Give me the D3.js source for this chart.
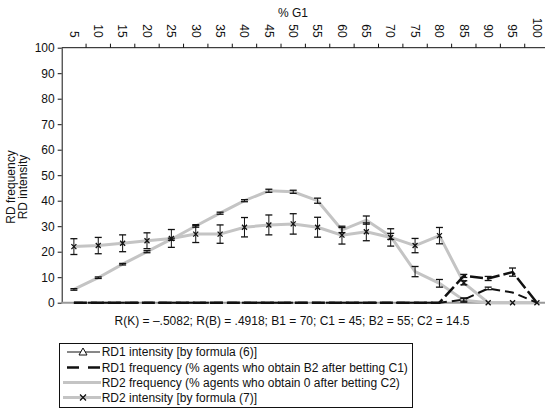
<!DOCTYPE html>
<html lang="en">
<head>
<meta charset="UTF-8">
<title>RD frequency / intensity</title>
<style>
  body { margin: 0; background: #fff; }
  text { font-family: "Liberation Sans", Arial, sans-serif; fill: #111; }
</style>
</head>
<body>
<div id="d3-container"></div>
<script src="https://d3js.org/d3.v7.min.js"></script>
<script>
  const cats = [5, 10, 15, 20, 25, 30, 35, 40, 45, 50, 55, 60, 65, 70, 75, 80, 85, 90, 95, 100];
  const yTicks = [0, 10, 20, 30, 40, 50, 60, 70, 80, 90, 100];

  const rd1Int = [0, 0, 0, 0, 0, 0, 0, 0, 0, 0, 0, 0, 0, 0, 0, 0, 1.2, 5.6, 4.0, 0];
  const rd1IntErr = [0, 0, 0, 0, 0, 0, 0, 0, 0, 0, 0, 0, 0, 0, 0, 0, 0.6, 0.5, 0, 0];
  const rd1Freq = [0, 0, 0, 0, 0, 0, 0, 0, 0, 0, 0, 0, 0, 0, 0, 0, 10.5, 9.5, 12, 0];
  const rd1FreqErr = [0, 0, 0, 0, 0, 0, 0, 0, 0, 0, 0, 0, 0, 0, 0, 0, 0.6, 0.8, 1.6, 0];
  const rd2Freq = [5.2, 9.8, 15.1, 20, 24.9, 30.1, 35.1, 40, 43.9, 43.5, 40, 28.5, 32.4, 26, 12.2, 7.6, 1, 0, 0, 0];
  const rd2FreqErr = [0.3, 0.3, 0.3, 0.4, 0.4, 0.5, 0.4, 0.4, 0.6, 0.6, 1.0, 1.0, 1.6, 1.2, 2.0, 1.5, 0.8, 0, 0, 0];
  const rd2Int = [22, 22.4, 23.3, 24.3, 25.2, 26.9, 26.9, 29.6, 30.5, 30.9, 29.6, 26.5, 27.8, 25.6, 22.4, 26.3, 7.8, 0, 0, 0];
  const rd2IntErr = [3.1, 3.2, 3.3, 3.1, 3.5, 3.3, 3.6, 3.8, 3.9, 4.0, 3.9, 3.5, 3.5, 3.4, 2.8, 3.2, 0.8, 0, 0, 0];

  const legendLabels = [
    "RD1 intensity [by formula (6)]",
    "RD1 frequency (% agents who obtain B2 after betting C1)",
    "RD2 frequency (% agents who obtain 0 after betting C2)",
    "RD2 intensity [by formula (7)]"
  ];
  const note = "R(K) = \u2013.5082; R(B) = .4918; B1 = 70; C1 = 45; B2 = 55; C2 = 14.5";

  const width = 545, height = 408;
  const margin = { top: 47.7, left: 61.7, bottom: 105.3 };
  const plotW = 20 * 24.37;
  const gray = "#c4c4c4";

  const svg = d3.select('#d3-container').append('svg')
    .attr('width', width).attr('height', height);

  const x = d3.scaleBand().domain(cats).range([margin.left, margin.left + plotW]).padding(0);
  const cx = c => x(c) + x.bandwidth() / 2;
  const y = d3.scaleLinear().domain([0, 100]).range([height - margin.bottom, margin.top]);

  // y axis
  svg.append('g')
    .attr('transform', `translate(${margin.left},0)`)
    .call(d3.axisLeft(y).tickValues(yTicks).tickSize(4).tickSizeOuter(0).tickPadding(3))
    .call(g => g.selectAll('text').attr('font-size', 12).style('font-family', '"Liberation Sans", Arial, sans-serif').attr('fill', '#111'))
    .call(g => g.selectAll('line, path').attr('stroke', '#111'));

  // top category axis: ticks on band edges, labels in band centres
  const topAxis = svg.append('g').attr('transform', `translate(0,${margin.top})`);
  topAxis.append('line').attr('x1', margin.left).attr('x2', margin.left + plotW)
    .attr('stroke', '#111');
  topAxis.selectAll('.tk').data(cats.slice(1)).join('line')
    .attr('x1', d => x(d)).attr('x2', d => x(d)).attr('y1', 0).attr('y2', -4)
    .attr('stroke', '#111');
  topAxis.selectAll('.lb').data(cats).join('text')
    .attr('transform', d => `translate(${cx(d)},-10) rotate(90)`)
    .attr('text-anchor', 'end').attr('dy', '0.35em').attr('font-size', 12)
    .text(d => d);
  svg.append('text').attr('x', 293).attr('y', 17)
    .attr('text-anchor', 'middle').attr('font-size', 12).text('% G1');

  // y title
  const yt = svg.append('g').attr('transform', 'translate(0,187) rotate(-90)');
  yt.append('text').attr('x', 0).attr('y', 15).attr('text-anchor', 'middle').attr('font-size', 12).text('RD frequency');
  yt.append('text').attr('x', 0).attr('y', 27).attr('text-anchor', 'middle').attr('font-size', 12).text('RD intensity');

  // gray base line at 0
  svg.append('line').attr('x1', margin.left).attr('x2', margin.left + plotW)
    .attr('y1', y(0)).attr('y2', y(0)).attr('stroke', '#999').attr('stroke-width', 2);

  const line = d3.line().x((d, i) => cx(cats[i])).y(d => y(d));

  svg.append('path').attr('d', line(rd2Freq)).attr('fill', 'none')
    .attr('stroke', gray).attr('stroke-width', 3);
  svg.append('path').attr('d', line(rd2Int)).attr('fill', 'none')
    .attr('stroke', gray).attr('stroke-width', 3);
  svg.append('path').attr('d', line(rd1Int)).attr('fill', 'none')
    .attr('stroke', '#111').attr('stroke-width', 2).attr('stroke-dasharray', '9,5');
  svg.append('path').attr('d', line(rd1Freq)).attr('fill', 'none')
    .attr('stroke', '#111').attr('stroke-width', 2.5).attr('stroke-dasharray', '13,4');

  function errBars(vals, errs) {
    const g = svg.append('g').attr('stroke', '#111').attr('stroke-width', 1);
    vals.forEach((v, i) => {
      const e = errs[i];
      if (!e) return;
      const px = cx(cats[i]);
      g.append('line').attr('x1', px).attr('x2', px).attr('y1', y(v - e)).attr('y2', y(v + e));
      [v - e, v + e].forEach(t => g.append('line')
        .attr('x1', px - 3.5).attr('x2', px + 3.5).attr('y1', y(t)).attr('y2', y(t))
        .attr('stroke-width', 1.3));
    });
  }
  errBars(rd2Freq, rd2FreqErr);
  errBars(rd2Int, rd2IntErr);
  errBars(rd1Freq, rd1FreqErr);
  errBars(rd1Int, rd1IntErr);

  // x markers for RD2 intensity
  svg.append('g').selectAll('path').data(rd2Int).join('path')
    .attr('transform', (d, i) => `translate(${cx(cats[i])},${y(d)})`)
    .attr('d', 'M-2.5,-2.5L2.5,2.5M-2.5,2.5L2.5,-2.5')
    .attr('stroke', '#111').attr('stroke-width', 1.3);

  // note under the plot
  svg.append('text').attr('x', 292).attr('y', 325).attr('text-anchor', 'middle')
    .attr('font-size', 12).text(note);

  // legend
  const lg = svg.append('g');
  lg.append('rect').attr('x', 59.5).attr('y', 343.5).attr('width', 353).attr('height', 64)
    .attr('fill', 'none').attr('stroke', '#111');
  const rowY = [352, 367.5, 382.5, 397.5];
  lg.selectAll('text').data(legendLabels).join('text')
    .attr('x', 101.7).attr('y', (d, i) => rowY[i] + 4.3).attr('font-size', 12).text(d => d);
  lg.append('line').attr('x1', 67).attr('x2', 100).attr('y1', rowY[0]).attr('y2', rowY[0]).attr('stroke', '#111');
  lg.append('path').attr('d', `M79,${rowY[0] + 3}L83,${rowY[0] - 4}L87,${rowY[0] + 3}Z`)
    .attr('fill', '#fff').attr('stroke', '#111');
  lg.append('line').attr('x1', 67).attr('x2', 100).attr('y1', rowY[1]).attr('y2', rowY[1])
    .attr('stroke', '#111').attr('stroke-width', 2.5).attr('stroke-dasharray', '12,9');
  lg.append('line').attr('x1', 63).attr('x2', 101).attr('y1', rowY[2]).attr('y2', rowY[2])
    .attr('stroke', gray).attr('stroke-width', 3);
  lg.append('line').attr('x1', 63).attr('x2', 101).attr('y1', rowY[3]).attr('y2', rowY[3])
    .attr('stroke', gray).attr('stroke-width', 3);
  lg.append('path').attr('transform', `translate(83,${rowY[3]})`)
    .attr('d', 'M-3,-3L3,3M-3,3L3,-3').attr('stroke', '#111').attr('stroke-width', 1.3);
</script>
</body>
</html>
